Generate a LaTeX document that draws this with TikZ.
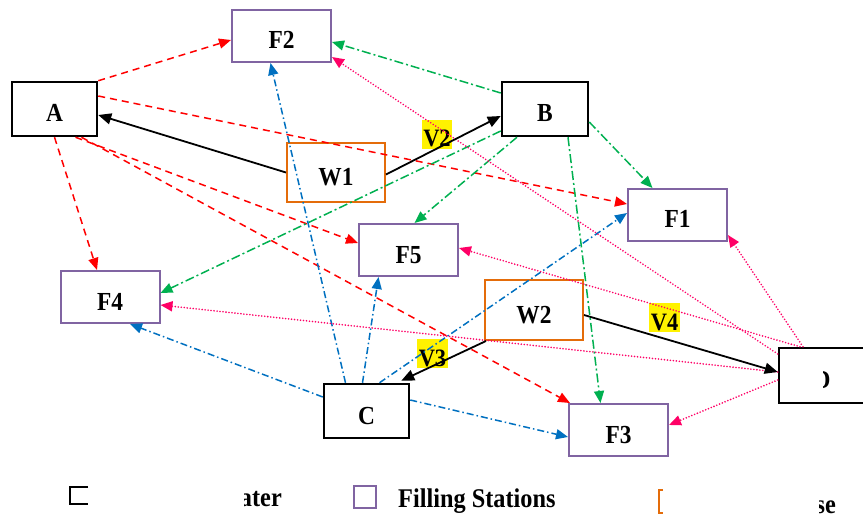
\documentclass[tikz,border=0pt]{standalone}
\usepackage{fontspec}
\setmainfont{Liberation Serif}[FakeStretch=0.9]
\usetikzlibrary{arrows.meta}
\definecolor{cred}{RGB}{255,0,0}
\definecolor{cgreen}{RGB}{0,176,80}
\definecolor{cblue}{RGB}{0,112,192}
\definecolor{cpink}{RGB}{255,0,102}
\definecolor{cpurple}{RGB}{128,100,162}
\definecolor{corange}{RGB}{228,108,10}
\begin{document}
\begin{tikzpicture}[x=1pt,y=-1pt,
  box/.style={rectangle, inner sep=0pt, font=\fontsize{26}{30}\selectfont\bfseries,
    text height=28pt, text depth=2pt},
  hub/.style={box, draw=black, line width=2.5pt, minimum width=85pt, minimum height=54pt},
  station/.style={box, draw=cpurple, line width=2pt, minimum width=99pt, minimum height=52pt},
  depot/.style={box, draw=corange, line width=2pt, minimum width=98pt, minimum height=59pt},
  vtag/.style={fill=yellow, inner sep=0pt, minimum width=30pt, minimum height=29pt,
    font=\fontsize{25}{28}\selectfont\bfseries, text height=25pt, text depth=0pt},
  legtext/.style={inner sep=0pt, font=\fontsize{27}{30}\selectfont\bfseries},
  tip/.style={-{Triangle[length=12pt,width=10pt]}},
  redc/.style={tip, cred, line width=1.5pt, dash pattern=on 7pt off 5pt},
  greenc/.style={tip, cgreen, line width=1.5pt, dash pattern=on 9pt off 3pt on 2pt off 3pt},
  bluec/.style={tip, cblue, line width=1.5pt, dash pattern=on 7pt off 3pt on 1.5pt off 3pt},
  pinkc/.style={tip, cpink, line width=1.8pt, line cap=round, dash pattern=on 0pt off 3pt},
  blackc/.style={-{Triangle[length=13pt,width=11pt]}, black, line width=1.8pt}]
\useasboundingbox (0,0) rectangle (863,516);

% hubs and depots
\node[hub] (A) at (54.5,109) {A};
\node[hub, minimum width=86pt] (B) at (545,109) {B};
\node[hub] (C) at (366.5,411) {C};
\node[hub, minimum width=91pt, minimum height=55pt] (D) at (824.5,375.5) {};
\begin{scope}
  \clip (823,355) rectangle (845,398);
  \node[box] (Dlbl) at (822,375.5) {D};
\end{scope}
\node[depot] (W1) at (336,172.5) {W1};
\node[depot, minimum height=60pt] (W2) at (534,310) {W2};

% filling stations
\node[station] (F2) at (281.5,36) {F2};
\node[station] (F1) at (677.5,215) {F1};
\node[station] (F5) at (408.5,250) {F5};
\node[station] (F4) at (110,297) {F4};
\node[station] (F3) at (618.5,430) {F3};

% vehicle tags
\node[vtag] (V2) at (437,134.5) {V2};
\node[vtag, minimum width=31pt] (V3) at (432.5,353.5) {V3};
\node[vtag, minimum width=31pt] (V4) at (664.5,317.5) {V4};

% routes from A
\draw[redc] (A.north east) -- ([yshift=-4pt]F2.west);
\draw[redc] ([yshift=13pt]A.east) -- ([yshift=11pt]F1.west);
\draw[redc] (A.south) -- ([xshift=-13pt]F4.north);
\draw[redc] ([xshift=21pt]A.south) -- ([yshift=7pt]F5.west);
\draw[redc] ([xshift=27pt]A.south) -- ([xshift=2pt]F3.north west);

% routes from B
\draw[greenc] ([yshift=16pt]B.west) -- ([yshift=-6pt]F2.east);
\draw[greenc] ([yshift=-13pt]B.east) -- ([xshift=-25pt]F1.north);
\draw[greenc] ([xshift=-28pt]B.south) -- ([xshift=6pt]F5.north);
\draw[greenc] ([xshift=23pt]B.south) -- ([xshift=-18pt]F3.north);
\draw[greenc] ([yshift=-22pt]B.west) -- ([yshift=4pt]F4.east);

% routes from C
\draw[bluec] ([xshift=-21pt]C.north) -- ([xshift=-11pt]F2.south);
\draw[bluec] ([xshift=-4pt]C.north) -- ([xshift=-30pt]F5.south);
\draw[bluec] ([xshift=13pt]C.north) -- ([yshift=2pt]F1.west);
\draw[bluec] ([yshift=14pt]C.west) -- ([xshift=20pt]F4.south);
\draw[bluec] ([yshift=11pt]C.east) -- ([yshift=-7pt]F3.west);

% routes from D
\draw[pinkc] ([yshift=21.5pt]D.west) -- ([yshift=-21pt]F2.east);
\draw[pinkc] ([xshift=-21.5pt]D.north) -- ([yshift=-20pt]F1.east);
\draw[pinkc] ([xshift=-24.5pt]D.north) -- ([yshift=2pt]F5.east);
\draw[pinkc] ([yshift=3.5pt]D.west) -- ([yshift=-8pt]F4.east);
\draw[pinkc] ([yshift=-4.5pt]D.west) -- ([yshift=5pt]F3.east);

% vehicles leaving the depots
\draw[blackc] (W1.west) -- ([yshift=-6pt]A.east);
\draw[blackc] ([yshift=-2pt]W1.east) -- ([yshift=-7pt]B.west);
\draw[blackc] ([yshift=-5pt]W2.east) -- ([yshift=3.5pt]D.west);
\draw[blackc] ([xshift=2pt]W2.south west) -- ([xshift=-9pt,yshift=2pt]C.north east);

% legend
\coordinate (k1) at (88,487);
\draw[line width=2.5pt] (k1) -- (70,487) -- (70,504) -- (88,504);
\begin{scope}
  \clip (244,480) rectangle (300,516);
  \node[legtext, anchor=base east] (t1) at (282,506) {Water};
\end{scope}
\node[draw=cpurple, line width=2pt, minimum width=22pt, minimum height=22pt, inner sep=0pt] (k2) at (365,497) {};
\node[legtext, anchor=base west] (t2) at (398,507) {Filling Stations};
\coordinate (k3) at (663,490);
\draw[corange, line width=2pt] (k3) -- (658.5,490) -- (658.5,513) -- (663,513);
\begin{scope}
  \clip (819,480) rectangle (863,516);
  \node[legtext, anchor=base east] (t3) at (836,513) {Warehouse};
\end{scope}
\end{tikzpicture}
\end{document}
